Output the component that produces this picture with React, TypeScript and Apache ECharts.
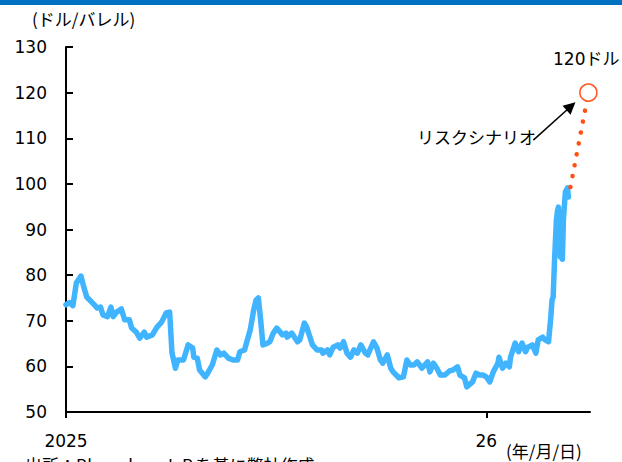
import React, { useEffect, useRef } from 'react';
import * as echarts from 'echarts';

// Days since 2025-01-01 for each observation of the oil price (USD/barrel)
const dayOffsets = [
  0, 3, 6, 9, 13, 15, 18, 23, 27, 30,
  32, 36, 39, 41, 44, 48, 51, 55, 57, 61,
  64, 68, 70, 75, 79, 83, 87, 90, 92, 95,
  97, 102, 106, 110, 111, 114, 116, 121, 123, 127,
  131, 134, 137, 141, 145, 149, 151, 155, 157, 160,
  163, 165, 167, 169, 171, 175, 177, 180, 183, 188,
  191, 192, 196, 201, 203, 207, 209, 214, 218, 222,
  223, 227, 229, 232, 236, 238, 241, 244, 247, 250,
  253, 256, 260, 262, 267, 270, 273, 275, 279, 282,
  284, 289, 293, 296, 299, 302, 305, 309, 314, 316,
  319, 322, 325, 329, 333, 336, 340, 342, 346, 348,
  353, 356, 359, 362, 365, 368, 371, 375, 376, 379,
  382, 385, 386, 390, 393, 396, 399, 401, 405, 408,
  410, 414, 416, 419, 421, 422, 423, 424.1, 425.8, 426.7,
  427.6, 428.4, 429.3, 430.2, 431, 431.9, 433.6, 435.4, 436.3,
];

const prices = [
  73.5, 74, 73.3, 78.3, 79.8, 77.8, 75.2, 73.9, 72.8, 73,
  71.3, 70.9, 73, 70.9, 71.9, 72.6, 70.2, 70.2, 68.4, 67.5,
  66.2, 67.5, 66.4, 66.9, 68.6, 69.7, 71.7, 71.9, 63, 59.6,
  61.4, 61.4, 64.7, 64, 62, 61.8, 59.2, 57.7, 58.5, 60.3,
  63.6, 62.5, 62.9, 61.8, 61.4, 61.4, 63.2, 63.6, 65.4, 68,
  72.4, 74.5, 75, 70.2, 64.7, 65.1, 65.4, 67.3, 68.4, 66.9,
  67.3, 66.4, 67.3, 65.4, 65.8, 69.5, 68.6, 64.7, 63.6, 63.6,
  62.9, 63.6, 62.5, 64.2, 64.7, 64, 65.4, 62.9, 62, 63.6,
  62.9, 64.7, 62.9, 62.5, 65.4, 64, 61.4, 60.7, 62.5, 59.6,
  58.8, 57.5, 57.7, 61.4, 60.3, 60.3, 61, 59.6, 61, 58.8,
  60.7, 59.6, 58.1, 58.1, 59, 59.2, 59.9, 58.1, 57.5, 55.5,
  56.6, 58.5, 58.1, 58.1, 57.7, 56.6, 58.8, 60.7, 62, 59.6,
  60.7, 59.9, 62, 65.1, 63.2, 65.1, 63.2, 64.2, 64.7, 62.9,
  65.8, 66.4, 65.8, 65.4, 70.9, 74.5, 75.2, 82.6, 92, 94,
  94.9, 88, 84, 93, 83.5, 92.1, 98.2, 99.1, 97.1,
];

// Risk scenario (dotted) path
const scenarioDays = [438, 453.6];
const scenarioPrices = [99.3, 120];

// Arrow annotation (from label to scenario point)
const arrowFrom = [405.8, 109.6];
const arrowTo = [438.5, 117.0];

const xTickDays = [0, 365];
const xTickLabels = ['2025', '26'];

const NUM_FONT = "'DejaVu Sans', 'Noto Sans CJK JP', sans-serif";
const JP_FONT = "'Noto Sans CJK JP', sans-serif";

export default function App() {
  const ref = useRef<HTMLDivElement>(null);

  useEffect(() => {
    document.body.style.margin = '0';
    const chart = echarts.init(ref.current as HTMLDivElement, null, { renderer: 'svg' });

    const lineData = dayOffsets.map((d, i) => [d, prices[i]]);
    const scenarioData: any[] = scenarioDays.map((d, i) => {
      const last = i === scenarioDays.length - 1;
      return {
        value: [d, scenarioPrices[i]],
        symbol: last ? 'circle' : 'none',
        symbolSize: last ? 17 : 0,
        itemStyle: { color: '#ffffff', borderColor: '#FF5A1F', borderWidth: 1.6 },
      };
    });

    chart.setOption({
      animation: false,
      grid: { left: 66, right: 32, top: 47, bottom: 50 },
      xAxis: {
        type: 'value',
        min: 0,
        max: 455,
        interval: 365,
        splitLine: { show: false },
        axisLine: { lineStyle: { color: '#000', width: 2 } },
        axisTick: {
          customValues: xTickDays,
          length: 6,
          lineStyle: { color: '#000', width: 2 },
        },
        axisLabel: {
          customValues: xTickDays,
          formatter: (v: number) => {
            const idx = xTickDays.indexOf(v);
            return idx >= 0 ? xTickLabels[idx] : '';
          },
          margin: 20,
          color: '#000',
          fontSize: 17,
          fontFamily: NUM_FONT,
        },
      },
      yAxis: {
        type: 'value',
        min: 50,
        max: 130,
        interval: 10,
        splitLine: { show: false },
        axisLine: { show: true, lineStyle: { color: '#000', width: 2 } },
        axisTick: { show: true, inside: true, length: 7, lineStyle: { color: '#000', width: 2 } },
        axisLabel: { margin: 19, color: '#000', fontSize: 17, fontFamily: NUM_FONT },
      },
      series: [
        {
          type: 'line',
          data: lineData,
          showSymbol: false,
          lineStyle: { color: '#40B4FF', width: 5.5, join: 'round', cap: 'round' },
          itemStyle: { color: '#40B4FF' },
          z: 2,
        },
        {
          type: 'line',
          data: scenarioData,
          showSymbol: true,
          lineStyle: { color: '#FF5010', width: 4.5, type: [0.1, 11], cap: 'round' },
          z: 3,
          markLine: {
            silent: true,
            symbol: ['none', 'triangle'],
            symbolSize: 12,
            lineStyle: { color: '#000', width: 1.5, type: 'solid' },
            itemStyle: { color: '#000' },
            label: { show: false },
            data: [[{ coord: arrowFrom }, { coord: arrowTo }]],
          },
        },
      ],
      graphic: [
        { type: 'rect', left: 0, top: 0, shape: { width: 622, height: 5 }, style: { fill: '#0070C0' } },
        {
          type: 'text', left: 32, top: 10,
          style: { text: '(ドル/バレル)', fontSize: 17, fontFamily: JP_FONT, fill: '#000' },
        },
        {
          type: 'text', left: 553, top: 50,
          style: { text: '120ドル', fontSize: 17, fontFamily: NUM_FONT, fill: '#000' },
        },
        {
          type: 'text', right: 86, top: 128,
          style: { text: 'リスクシナリオ', fontSize: 17, fontFamily: JP_FONT, fill: '#000' },
        },
        {
          type: 'text', left: 506, top: 442,
          style: { text: '(年/月/日)', fontSize: 17, fontFamily: JP_FONT, fill: '#000' },
        },
        {
          type: 'text', left: 25, top: 456,
          style: { text: '出所：Bloomberg L.P.を基に弊社作成', fontSize: 17, fontFamily: JP_FONT, fill: '#000' },
        },
      ],
    });

    return () => chart.dispose();
  }, []);

  return <div ref={ref} style={{ width: 622, height: 462 }} />;
}
